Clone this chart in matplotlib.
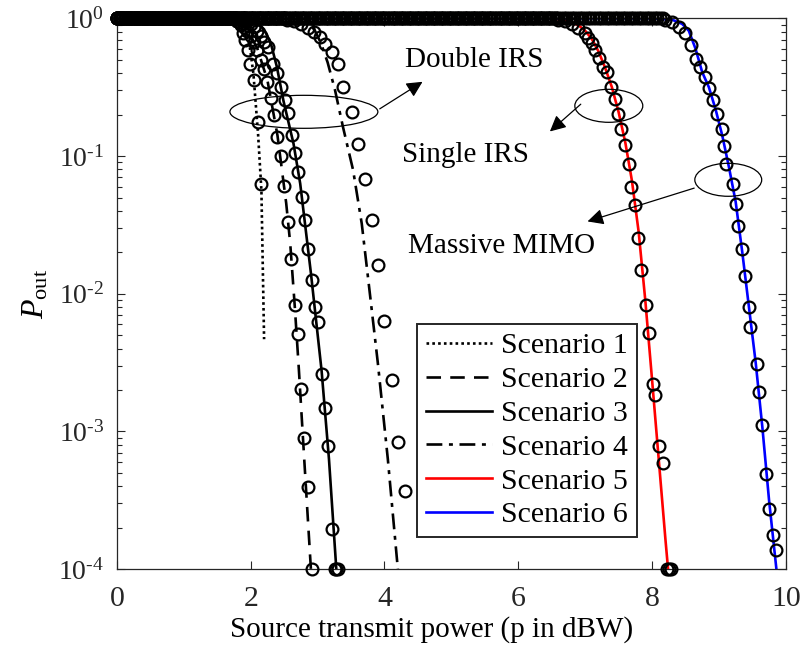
import numpy as np
import matplotlib as mpl
import matplotlib.pyplot as plt
from matplotlib.patches import Ellipse

# ---- data (x in dBW, values are log10 of P_out) ----
labels = ['Scenario 1', 'Scenario 2', 'Scenario 3', 'Scenario 4', 'Scenario 5', 'Scenario 6']

# analytical curves
s1_line_x = [0, 1.6, 1.8, 1.9, 1.97, 2.04, 2.11, 2.16, 2.20]
s1_line_y = [0, 0, -0.02, -0.06, -0.15, -0.40, -0.84, -1.25, -2.33]
s2_line_x = [0, 1.6, 1.8, 1.95, 2.1, 2.25, 2.4, 2.53, 2.59, 2.66, 2.72, 2.8, 2.9]
s2_line_y = [0, 0, -0.02, -0.08, -0.22, -0.45, -0.85, -1.34, -1.63, -2.1, -2.55, -3.2, -4.0]
s3_line_x = [0, 1.9, 2.1, 2.2, 2.3, 2.39, 2.49, 2.64, 2.74, 2.9, 3.06, 3.17, 3.28]
s3_line_y = [0, 0, -0.03, -0.08, -0.18, -0.35, -0.60, -0.91, -1.2, -1.85, -2.56, -3.2, -4.0]
s4_line_x = [0, 2.6, 2.8, 2.95, 3.05, 3.15, 3.26, 3.38, 3.53, 3.66, 3.77, 3.9, 4.05, 4.2]
s4_line_y = [0, 0, -0.02, -0.08, -0.18, -0.32, -0.52, -0.79, -1.10, -1.49, -1.95, -2.5, -3.2, -4.0]
s5_line_x = [0, 6.4, 6.7, 6.9, 7.0, 7.1, 7.2, 7.3, 7.4, 7.5, 7.6, 7.7, 7.8, 7.9, 8.0, 8.1, 8.2, 8.24]
s5_line_y = [0, 0, -0.01, -0.05, -0.09, -0.15, -0.24, -0.36, -0.50, -0.68, -0.90, -1.18, -1.55,
             -2.05, -2.62, -3.2, -3.78, -4.0]
s6_line_x = [0, 8.0, 8.3, 8.45, 8.55, 8.65, 8.75, 8.85, 8.95, 9.05, 9.15, 9.25, 9.35, 9.45,
             9.55, 9.65, 9.75, 9.86]
s6_line_y = [0, 0, -0.01, -0.04, -0.09, -0.22, -0.39, -0.50, -0.66, -0.85, -1.08, -1.33, -1.70,
             -2.10, -2.50, -2.97, -3.50, -4.0]

# simulation (the part that leaves P_out = 1)
s1_sim_x = [1.80, 1.85, 1.89, 1.91, 1.96, 1.99, 2.05, 2.11, 2.16]
s1_sim_y = [-0.02, -0.05, -0.11, -0.16, -0.23, -0.33, -0.45, -0.75, -1.20]
s2_sim_x = [1.80, 1.85, 1.90, 1.95, 2.00, 2.05, 2.10, 2.15, 2.20, 2.25, 2.30, 2.35, 2.40, 2.45,
            2.50, 2.56, 2.60, 2.66, 2.70, 2.75, 2.80, 2.86, 2.91]
s2_sim_y = [-0.02, -0.04, -0.06, -0.09, -0.13, -0.17, -0.23, -0.30, -0.37, -0.46, -0.58, -0.70,
            -0.86, -1.00, -1.22, -1.48, -1.75, -2.08, -2.29, -2.69, -3.05, -3.40, -4.0]
s3_sim_x = [1.95, 2.00, 2.05, 2.10, 2.15, 2.20, 2.26, 2.34, 2.40, 2.46, 2.51, 2.56, 2.61, 2.66,
            2.70, 2.76, 2.81, 2.86, 2.91, 2.96, 3.00, 3.06, 3.11, 3.16, 3.21, 3.26, 3.28, 3.30]
s3_sim_y = [-0.02, -0.04, -0.06, -0.09, -0.13, -0.17, -0.21, -0.33, -0.40, -0.50, -0.595, -0.69,
            -0.85, -0.98, -1.115, -1.297, -1.462, -1.672, -1.897, -2.096, -2.205, -2.579, -2.833,
            -3.107, -3.705, -4.0, -4.0, -4.0]
s4_sim_x = [2.55, 2.65, 2.75, 2.85, 2.95, 3.03, 3.11, 3.21, 3.31, 3.38, 3.51, 3.61, 3.71, 3.81,
            3.91, 4.00, 4.11, 4.20, 4.30]
s4_sim_y = [-0.01, -0.02, -0.04, -0.07, -0.10, -0.136, -0.184, -0.245, -0.329, -0.499, -0.68,
            -0.91, -1.164, -1.466, -1.793, -2.197, -2.623, -3.076, -3.43]
s5_sim_x = [6.60, 6.70, 6.80, 6.90, 7.00, 7.05, 7.10, 7.15, 7.20, 7.27, 7.32, 7.39, 7.44, 7.49,
            7.54, 7.59, 7.65, 7.69, 7.74, 7.79, 7.84, 7.91, 7.95, 8.01, 8.05, 8.10, 8.16, 8.22,
            8.25, 8.28]
s5_sim_y = [-0.01, -0.02, -0.04, -0.07, -0.11, -0.14, -0.18, -0.23, -0.29, -0.354, -0.39, -0.499,
            -0.583, -0.692, -0.80, -0.922, -1.055, -1.225, -1.357, -1.592, -1.829, -2.078, -2.282,
            -2.652, -2.737, -3.105, -3.228, -4.0, -4.0, -4.0]
s6_sim_x = [8.20, 8.30, 8.40, 8.50, 8.58, 8.665, 8.71, 8.79, 8.85, 8.91, 8.97, 9.04, 9.08, 9.11,
            9.21, 9.25, 9.29, 9.34, 9.39, 9.45, 9.47, 9.57, 9.60, 9.65, 9.71, 9.75, 9.81, 9.85]
s6_sim_y = [-0.01, -0.03, -0.06, -0.11, -0.19, -0.293, -0.354, -0.426, -0.503, -0.595, -0.692,
            -0.80, -0.927, -1.055, -1.20, -1.345, -1.51, -1.672, -1.873, -2.096, -2.24, -2.507,
            -2.713, -2.955, -3.306, -3.56, -3.753, -3.857]

# simulation points sit at P_out = 1 below these powers
sim_step = 0.04
flat_end = [1.78, 1.78, 1.93, 2.53, 6.58, 8.18]

line_x = [s1_line_x, s2_line_x, s3_line_x, s4_line_x, s5_line_x, s6_line_x]
line_y = [s1_line_y, s2_line_y, s3_line_y, s4_line_y, s5_line_y, s6_line_y]
sim_x = [s1_sim_x, s2_sim_x, s3_sim_x, s4_sim_x, s5_sim_x, s6_sim_x]
sim_y = [s1_sim_y, s2_sim_y, s3_sim_y, s4_sim_y, s5_sim_y, s6_sim_y]
colors = ['k', 'k', 'k', 'k', 'r', 'b']
styles = [(0, (1, 1.2)), (0, (5.5, 3.5)), '-', (0, (6, 2.5, 1.5, 2.5)), '-', '-']

# configuration
mpl.rcParams['font.family'] = 'Liberation Serif'
mpl.rcParams['mathtext.fontset'] = 'custom'
mpl.rcParams['mathtext.rm'] = 'Liberation Serif'
mpl.rcParams['mathtext.it'] = 'Liberation Serif:italic'
mpl.rcParams['font.size'] = 21
mpl.rcParams['xtick.labelsize'] = 21.5
mpl.rcParams['ytick.labelsize'] = 20

fig = plt.figure(figsize=(8.01, 6.55), dpi=100)
ax = fig.add_axes([0.146, 0.131, 0.835, 0.841])

# lines: colored first so the black ones sit on top in the flat part
handles = [None] * 6
for i in [4, 5, 0, 1, 2, 3]:
    h, = ax.plot(line_x[i], 10.0 ** np.array(line_y[i]), color=colors[i],
                 linestyle=styles[i], linewidth=1.9, zorder=2)
    handles[i] = h

# simulation markers
for i in range(6):
    fx = np.arange(0, flat_end[i] + 1e-9, sim_step)
    xs = np.concatenate([fx, sim_x[i]])
    ys = np.concatenate([np.ones(len(fx)), 10.0 ** np.array(sim_y[i])])
    ax.plot(xs, ys, linestyle='none', marker='o', markersize=8.5, markerfacecolor='none',
            markeredgecolor='k', markeredgewidth=1.6, zorder=3, clip_on=False)

ax.set_yscale('log')
ax.set_xlim(0, 10)
ax.set_ylim(1e-4, 1)
ax.set_xticks([0, 2, 4, 6, 8, 10])
ax.set_yticks([1e-4, 1e-3, 1e-2, 1e-1, 1])
ax.set_yticklabels([r'$10^{\text{-}4}$', r'$10^{\text{-}3}$', r'$10^{\text{-}2}$',
                    r'$10^{\text{-}1}$', r'$10^{0}$'])
ax.tick_params(which='both', direction='in', top=True, right=True, colors='0.15')
ax.tick_params(which='major', length=6, width=0.8)
ax.tick_params(which='minor', length=3.5, width=0.8)
ax.tick_params(axis='x', which='minor', bottom=False, top=False)
ax.tick_params(axis='x', pad=12)
ax.tick_params(axis='y', pad=9)
for sp in ax.spines.values():
    sp.set_color('0.15')
    sp.set_linewidth(0.9)
ax.tick_params(labelcolor='0.15')

ax.set_xlabel('Source transmit power (p in dBW)')
ax.xaxis.set_label_coords(0.47, -0.085)
ax.set_ylabel(r'$P_{\mathrm{out}}$', labelpad=6, fontsize=23)

# legend
leg = ax.legend(handles, labels, loc='lower right', bbox_to_anchor=(0.777, 0.058),
                borderaxespad=0, fancybox=False, framealpha=1, edgecolor='0.15',
                fontsize=21.5, handlelength=2.2, labelspacing=0.23, handletextpad=0.3,
                borderpad=0.3)
leg.get_frame().set_linewidth(1.4)

# annotations
for cx, cy, w in [(0.2795, 0.8303, 0.2212), (0.7354, 0.8412, 0.1016), (0.914, 0.7069, 0.100)]:
    ax.add_patch(Ellipse((cx, cy), w, 0.0599, transform=ax.transAxes, fill=False,
                         edgecolor='k', linewidth=0.9, zorder=4))

arrow = dict(arrowstyle='-|>', color='k', lw=0.9, mutation_scale=24)
ax.annotate('', xy=(0.4604, 0.8875), xytext=(0.3894, 0.833), xycoords='axes fraction',
            arrowprops=arrow)
ax.annotate('', xy=(0.6442, 0.7913), xytext=(0.6966, 0.8475), xycoords='axes fraction',
            arrowprops=arrow)
ax.annotate('', xy=(0.6996, 0.6298), xytext=(0.867, 0.6933), xycoords='axes fraction',
            arrowprops=arrow)

ax.text(0.4305, 0.9238, 'Double IRS', transform=ax.transAxes, va='center', fontsize=21)
ax.text(0.426, 0.7514, 'Single IRS', transform=ax.transAxes, va='center', fontsize=21)
ax.text(0.435, 0.5862, 'Massive MIMO', transform=ax.transAxes, va='center', fontsize=21)

plt.savefig('out.png', dpi=100)
